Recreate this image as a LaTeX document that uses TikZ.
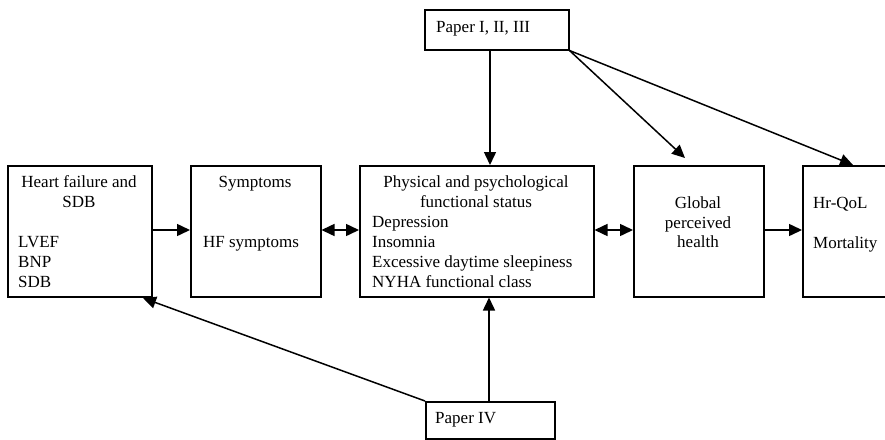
\documentclass[tikz,border=0pt]{standalone}
\usepackage{fontspec}
\setmainfont{Liberation Serif}
\usetikzlibrary{arrows.meta}
\tikzset{
  box/.style={draw, line width=1.5pt, anchor=north west, inner sep=0pt},
  conn/.style={line width=1.5pt, -{Triangle[length=13pt,width=12pt]}},
  bconn/.style={line width=1.5pt, {Triangle[length=13pt,width=12pt]}-{Triangle[length=13pt,width=12pt]}},
  txt/.style={inner sep=0pt, font=\fontsize{17}{20}\selectfont},
  ctxt/.style={txt, anchor=base},
  ltxt/.style={txt, anchor=base west},
}
\begin{document}
\begin{tikzpicture}[x=1pt,y=-1pt]
\useasboundingbox (0,0) rectangle (885,439);
% boxes
\node[box, minimum width=144pt, minimum height=131pt] (hf) at (7,165) {};
\node[box, minimum width=130pt, minimum height=131pt] (sym) at (190,165) {};
\node[box, minimum width=234pt, minimum height=131pt] (phys) at (359,165) {};
\node[box, minimum width=130pt, minimum height=131pt] (glob) at (633,165) {};
\node[box, minimum width=100pt, minimum height=131pt] (qol) at (802,165) {};
\node[box, minimum width=144pt, minimum height=40pt] (p1) at (424,9) {};
\node[box, minimum width=129pt, minimum height=37pt] (p4) at (425,401) {};
% texts
\node[ctxt] (hf1) at (79,187) {Heart failure and};
\node[ctxt] (hf2) at (79,207) {SDB};
\node[ltxt] (hf3) at (18,247) {LVEF};
\node[ltxt] (hf4) at (18,267) {BNP};
\node[ltxt] (hf5) at (18,287) {SDB};
\node[ctxt] (sy1) at (255,187) {Symptoms};
\node[ctxt] (sy2) at (251,247) {HF symptoms};
\node[ctxt] (ph1) at (476,187) {Physical and psychological};
\node[ctxt] (ph2) at (476,207) {functional status};
\node[ltxt] (ph3) at (372,227) {Depression};
\node[ltxt] (ph4) at (372,247) {Insomnia};
\node[ltxt] (ph5) at (372,267) {Excessive daytime sleepiness};
\node[ltxt] (ph6) at (372,287) {NYHA functional class};
\node[ctxt] (gl1) at (698,208) {Global};
\node[ctxt] (gl2) at (698,228) {perceived};
\node[ctxt] (gl3) at (698,247) {health};
\node[ltxt] (q1) at (813,208) {Hr-QoL};
\node[ltxt] (q2) at (813,248) {Mortality};
\node[ltxt] (p1t) at (436,32) {Paper I, II, III};
\node[ltxt] (p4t) at (435,423) {Paper IV};
% connector endpoints
\coordinate (gtip) at (685,158);
\coordinate (qtip) at (853,165);
\coordinate (htip) at (143,298);
% connectors
\draw[conn] (hf.east |- 0,230) -- (sym.west |- 0,230);
\draw[bconn] (sym.east |- 0,230) -- (phys.west |- 0,230);
\draw[bconn] (phys.east |- 0,230) -- (glob.west |- 0,230);
\draw[conn] (glob.east |- 0,230) -- (qol.west |- 0,230);
\draw[conn] (p1.south -| 490,0) -- (phys.north -| 490,0);
\draw[conn] (p1.south east) -- (gtip);
\draw[conn] (p1.south east) -- (qtip);
\draw[conn] (p4.north -| 489,0) -- (phys.south -| 489,0);
\draw[conn] (p4.north west) -- (htip);
\end{tikzpicture}
\end{document}
